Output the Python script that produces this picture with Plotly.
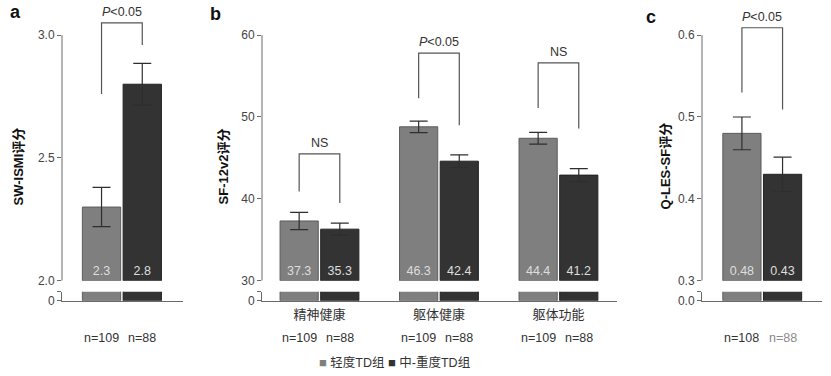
import plotly.graph_objects as go

W, H = 831, 376

# ---------------- data ----------------
# panel a : SW-ISMI
a_groups = [""]
a_light = [2.30]
a_dark = [2.80]
a_light_err = [0.08]
a_dark_err = [0.085]
a_light_lbl = ["2.3"]
a_dark_lbl = ["2.8"]
a_n_light = ["n=109"]
a_n_dark = ["n=88"]
a_sig_text = ["<i>P</i>&lt;0.05"]
a_sig_top = [3.05]
a_sig_left = [2.76]
a_sig_right = [2.96]
a_ticks = [2.0, 2.5, 3.0]
a_ticklabels = ["2.0", "2.5", "3.0"]

# panel b : SF-12v2
b_groups = ["精神健康", "躯体健康", "躯体功能"]
b_light = [37.3, 48.8, 47.4]
b_dark = [36.3, 44.6, 42.9]
b_light_err = [1.05, 0.70, 0.71]
b_dark_err = [0.73, 0.77, 0.80]
b_light_lbl = ["37.3", "46.3", "44.4"]
b_dark_lbl = ["35.3", "42.4", "41.2"]
b_n_light = ["n=109", "n=109", "n=109"]
b_n_dark = ["n=88", "n=88", "n=88"]
b_sig_text = ["NS", "<i>P</i>&lt;0.05", "NS"]
b_sig_top = [45.5, 57.8, 56.6]
b_sig_left = [40.9, 52.3, 51.1]
b_sig_right = [39.5, 49.0, 48.6]
b_ticks = [30, 40, 50, 60]
b_ticklabels = ["30", "40", "50", "60"]

# panel c : Q-LES-SF
c_groups = [""]
c_light = [0.48]
c_dark = [0.43]
c_light_err = [0.020]
c_dark_err = [0.021]
c_light_lbl = ["0.48"]
c_dark_lbl = ["0.43"]
c_n_light = ["n=108"]
c_n_dark = ["n=88"]
c_sig_text = ["<i>P</i>&lt;0.05"]
c_sig_top = [0.609]
c_sig_left = [0.530]
c_sig_right = [0.509]
c_ticks = [0.3, 0.4, 0.5, 0.6]
c_ticklabels = ["0.3", "0.4", "0.5", "0.6"]

series_names = ["轻度TD组", "中-重度TD组"]
panel_letters = ["a", "b", "c"]
y_titles = ["SW-ISMI评分", "SF-12v2评分", "Q-LES-SF评分"]
zero_labels = ["0", "0", "0.0"]

# ---------------- style ----------------
FONT = "Liberation Sans, Arial, Noto Sans CJK SC, sans-serif"
LIGHT, LIGHT_EDGE = "#7f7f7f", "#5c5c5c"
DARK, DARK_EDGE = "#333333", "#222222"
AX = "#6a6a6a"
TXT = "#333333"

BARGAP, BARGROUPGAP = 0.32, 0.06
HALF = (1 - BARGAP) / 4  # distance from group centre to bar centre

# pixel geometry (layout positions)
H_EFF = 368
UP_BOT, UP_TOP_TICK, LOW_BOT, LOW_TOP = 280, 35, 300, 291


def fy(p):
    return 1 - p / H_EFF


def fx(p):
    return p / W


panels = [
    dict(groups=a_groups, light=a_light, dark=a_dark, le=a_light_err, de=a_dark_err,
         ll=a_light_lbl, dl=a_dark_lbl, nl=a_n_light, nd=a_n_dark,
         st=a_sig_text, stop=a_sig_top, sl=a_sig_left, sr=a_sig_right,
         ticks=a_ticks, tl=a_ticklabels, xpx=(62, 183), xr=[-0.5, 0.51], lowtop=0.1),
    dict(groups=b_groups, light=b_light, dark=b_dark, le=b_light_err, de=b_dark_err,
         ll=b_light_lbl, dl=b_dark_lbl, nl=b_n_light, nd=b_n_dark,
         st=b_sig_text, stop=b_sig_top, sl=b_sig_left, sr=b_sig_right,
         ticks=b_ticks, tl=b_ticklabels, xpx=(262, 617), xr=[-0.481, 2.49], lowtop=2),
    dict(groups=c_groups, light=c_light, dark=c_dark, le=c_light_err, de=c_dark_err,
         ll=c_light_lbl, dl=c_dark_lbl, nl=c_n_light, nd=c_n_dark,
         st=c_sig_text, stop=c_sig_top, sl=c_sig_left, sr=c_sig_right,
         ticks=c_ticks, tl=c_ticklabels, xpx=(702, 822), xr=[-0.504, 0.5], lowtop=0.02),
]

fig = go.Figure()
layout = {}
shapes = []
annotations = []

letter_pos = [(15, 12), (216, 14), (651, 17)]
title_x = [18, 223, 665]
n_colors = [[TXT, TXT], [TXT, TXT], [TXT, "#8a8a8a"]]

for k, p in enumerate(panels):
    iu, il, io = 2 * k + 1, 2 * k + 2, 7 + k
    xu = "x" if iu == 1 else f"x{iu}"
    yu = "y" if iu == 1 else f"y{iu}"
    xl, yl, yo = f"x{il}", f"y{il}", f"y{io}"
    xdom = [fx(p["xpx"][0]), fx(p["xpx"][1])]
    lo, hi = p["ticks"][0], p["ticks"][-1]
    up_top = lo + (hi - lo) * UP_BOT / (UP_BOT - UP_TOP_TICK)
    xs = list(range(len(p["groups"])))

    # upper bars (broken axis segment)
    for vals, errs, lbls, col, edge, nm in [
        (p["light"], p["le"], p["ll"], LIGHT, LIGHT_EDGE, series_names[0]),
        (p["dark"], p["de"], p["dl"], DARK, DARK_EDGE, series_names[1]),
    ]:
        fig.add_trace(go.Bar(
            x=xs, y=[v - lo for v in vals], base=[lo] * len(vals), name=nm,
            xaxis=xu, yaxis=yu, showlegend=False,
            marker=dict(color=col, line=dict(color=edge, width=1)),
            error_y=dict(type="data", array=errs, color="#2e2e2e", thickness=1.2, width=9),
            text=lbls, textposition="inside", insidetextanchor="start", textangle=0,
            constraintext="none",
            textfont=dict(family=FONT, size=12.5, color="#dedede"),
            hoverinfo="skip"))
        # lower stub
        fig.add_trace(go.Bar(
            x=xs, y=vals, name=nm, xaxis=xl, yaxis=yl, showlegend=False,
            marker=dict(color=col, line=dict(color=edge, width=1)),
            hoverinfo="skip"))

    # significance brackets
    for g, top, l, r, t in zip(xs, p["stop"], p["sl"], p["sr"], p["st"]):
        fig.add_trace(go.Scatter(
            x=[g - HALF, g - HALF, g + HALF, g + HALF], y=[l, top, top, r],
            mode="lines", line=dict(color="#555555", width=1.2),
            xaxis=xu, yaxis=yu, showlegend=False, hoverinfo="skip"))
        annotations.append(dict(
            x=g, y=top, xref=xu, yref=yu, text=t, showarrow=False,
            xanchor="center", yanchor="bottom", yshift=2,
            font=dict(family=FONT, size=12.5, color=TXT)))

    # n labels
    for g, a, b in zip(xs, p["nl"], p["nd"]):
        for off, txt, col in [(-HALF, a, n_colors[k][0]), (HALF, b, n_colors[k][1])]:
            annotations.append(dict(
                x=g + off, y=fy(337), xref=xl, yref="paper", text=txt, showarrow=False,
                xanchor="center", yanchor="middle",
                font=dict(family=FONT, size=12.5, color=col)))

    # axes
    layout[("xaxis" if iu == 1 else f"xaxis{iu}")] = dict(
        domain=xdom, range=p["xr"], anchor=yu, showline=False, showticklabels=False,
        ticks="", showgrid=False, zeroline=False, fixedrange=True)
    layout[("yaxis" if iu == 1 else f"yaxis{iu}")] = dict(
        domain=[fy(UP_BOT), 1], range=[lo, up_top], anchor=xu, showline=False,
        tickvals=p["ticks"], ticktext=p["tl"], ticks="outside", ticklen=4,
        tickcolor=AX, tickwidth=1, showgrid=False, zeroline=False,
        tickfont=dict(family=FONT, size=12, color="#444444"))
    show_cat = any(g != "" for g in p["groups"])
    layout[f"xaxis{il}"] = dict(
        domain=xdom, range=p["xr"], anchor=yl, showline=True, linecolor=AX, linewidth=1,
        tickvals=xs, ticktext=p["groups"], showticklabels=show_cat, ticks="",
        ticklabelstandoff=2, showgrid=False, zeroline=False,
        tickfont=dict(family=FONT, size=13, color=TXT))
    layout[f"yaxis{il}"] = dict(
        domain=[fy(LOW_BOT), fy(LOW_TOP)], range=[0, p["lowtop"]], anchor=xl,
        showline=True, linecolor=AX, linewidth=1,
        tickvals=[0, p["lowtop"]], ticktext=[zero_labels[k], ""], ticks="outside",
        ticklen=4, tickcolor=AX, showgrid=False, zeroline=False,
        tickfont=dict(family=FONT, size=12, color="#444444"))
    layout[f"yaxis{io}"] = dict(
        overlaying=yl, anchor=xl, range=[0, p["lowtop"]], tickvals=[p["lowtop"]],
        ticks="inside", ticklen=3, tickcolor=AX, showticklabels=False,
        showline=False, showgrid=False, zeroline=False)

    # visible y-axis line of the upper segment (only over the tick range)
    shapes.append(dict(type="line", xref=f"{xu} domain", x0=0, x1=0, yref=yu,
                       y0=lo, y1=hi, line=dict(color=AX, width=1)))

    # panel letter and y title
    annotations.append(dict(x=fx(letter_pos[k][0]), y=fy(letter_pos[k][1]), xref="paper",
                            yref="paper", text=f"<b>{panel_letters[k]}</b>", showarrow=False,
                            xanchor="center", yanchor="middle",
                            font=dict(family=FONT, size=18, color="#111111")))
    annotations.append(dict(x=fx(title_x[k]), y=fy(166), xref="paper", yref="paper",
                            text=f"<b>{y_titles[k]}</b>", textangle=-90, showarrow=False,
                            xanchor="center", yanchor="middle",
                            font=dict(family=FONT, size=13, color="#111111")))

# legend (as text)
annotations.append(dict(
    x=fx(394), y=fy(362), xref="paper", yref="paper", showarrow=False,
    xanchor="center", yanchor="middle",
    text=(f'<span style="color:{LIGHT};font-size:13px">■</span> {series_names[0]} '
          f'<span style="color:{DARK};font-size:13px">■</span> {series_names[1]}'),
    font=dict(family=FONT, size=12.5, color=TXT)))

fig.update_layout(
    width=W, height=H, margin=dict(l=0, r=0, t=0, b=0),
    paper_bgcolor="white", plot_bgcolor="rgba(0,0,0,0)",
    barmode="group", bargap=BARGAP, bargroupgap=BARGROUPGAP,
    showlegend=False, shapes=shapes, annotations=annotations,
    font=dict(family=FONT, color=TXT), **layout)

fig.write_html("out.html", config={"displayModeBar": False},
               post_script="document.body.style.margin='0';document.body.style.padding='0';")
